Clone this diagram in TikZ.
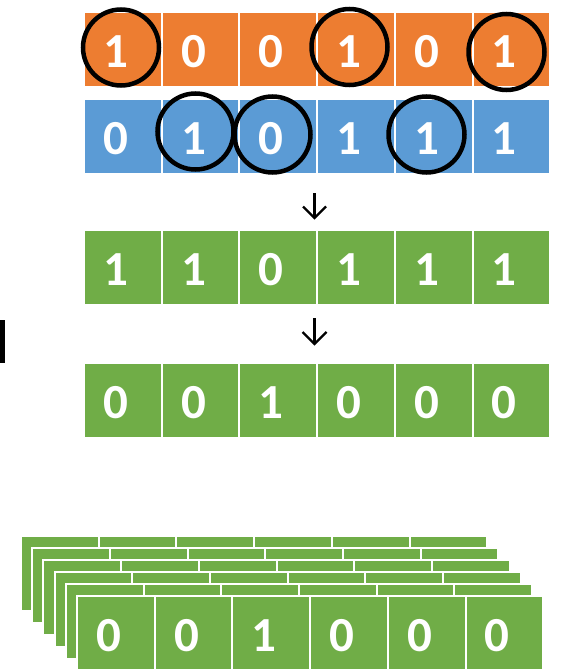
\documentclass[tikz,border=0pt]{standalone}
\usepackage{fontspec}
\setmainfont{Carlito}
\definecolor{cOr}{HTML}{ED7D31}
\definecolor{cBl}{HTML}{5B9BD5}
\definecolor{cGr}{HTML}{70AD47}
\tikzset{
  cell/.style={rectangle, draw=white, line width=2pt, inner sep=0pt, outer sep=0pt,
               minimum width=77.7pt, minimum height=75pt},
  digit/.style={anchor=base, inner sep=0pt, text=white,
                font=\fontsize{49}{49}\selectfont\bfseries},
  ring/.style={circle, draw=black, line width=4.5pt, minimum size=76pt, inner sep=0pt},
  arr/.style={draw=black, line width=2.2pt, line join=miter},
}
\begin{document}
\begin{tikzpicture}[x=1pt,y=-1pt]
\useasboundingbox (0,0) rectangle (560,669);
\fill[white] (0,0) rectangle (560,669);
% orange row
\foreach \v [count=\i from 0] in {1,0,0,1,0,1} {
  \node[cell, fill=cOr] (o\i) at ({84+(\i+0.5)*77.7}, 49.5) {};
  \node[digit] (ot\i) at ([xshift=-7pt,yshift=-18pt] o\i.center) {\v};
}
% blue row
\foreach \v [count=\i from 0] in {0,1,0,1,1,1} {
  \node[cell, fill=cBl] (b\i) at ({84+(\i+0.5)*77.7}, 136.5) {};
  \node[digit] (bt\i) at ([xshift=-7pt,yshift=-18pt] b\i.center) {\v};
}
% green row 1
\foreach \v [count=\i from 0] in {1,1,0,1,1,1} {
  \node[cell, fill=cGr] (g\i) at ({84+(\i+0.5)*77.7}, 267) {};
  \node[digit] (gt\i) at ([xshift=-7pt,yshift=-18pt] g\i.center) {\v};
}
% green row 2
\foreach \v [count=\i from 0] in {0,0,1,0,0,0} {
  \node[cell, fill=cGr] (h\i) at ({84+(\i+0.5)*77.7}, 400.5) {};
  \node[digit] (ht\i) at ([xshift=-7pt,yshift=-18pt] h\i.center) {\v};
}
% circles
\node[ring] (c1) at (121,47.5) {};
\node[ring] (c2) at (349.5,47) {};
\node[ring] (c3) at (506.5,52) {};
\node[ring] (c4) at (195.5,131.5) {};
\node[ring] (c5) at (272.5,134.5) {};
\node[ring] (c6) at (426.5,134.5) {};
% arrows
\coordinate (a1s) at (314.5,193);
\coordinate (a1t) at (314.5,218);
\draw[arr] (a1s) -- (a1t);
\draw[arr] ([xshift=-11.5pt,yshift=11.5pt] a1t) -- (a1t) -- ([xshift=11.5pt,yshift=11.5pt] a1t);
\coordinate (a2s) at (314.5,318);
\coordinate (a2t) at (314.5,344);
\draw[arr] (a2s) -- (a2t);
\draw[arr] ([xshift=-12pt,yshift=12pt] a2t) -- (a2t) -- ([xshift=12pt,yshift=12pt] a2t);
% black bar
\fill[black] (0,320) rectangle (4.5,363);
% stacked layers
\foreach \k in {0,...,4} {
  \foreach \i in {0,...,5} {
    \node[cell, fill=cGr] (s\k c\i) at ({21+\k*11.2+(\i+0.5)*77.7}, {573.5+\k*12}) {};
  }
}
\foreach \v [count=\i from 0] in {0,0,1,0,0,0} {
  \node[cell, fill=cGr] (f\i) at ({77+(\i+0.5)*77.7}, 633.5) {};
  \node[digit] (ft\i) at ([xshift=-7pt,yshift=-18pt] f\i.center) {\v};
}
\end{tikzpicture}
\end{document}
